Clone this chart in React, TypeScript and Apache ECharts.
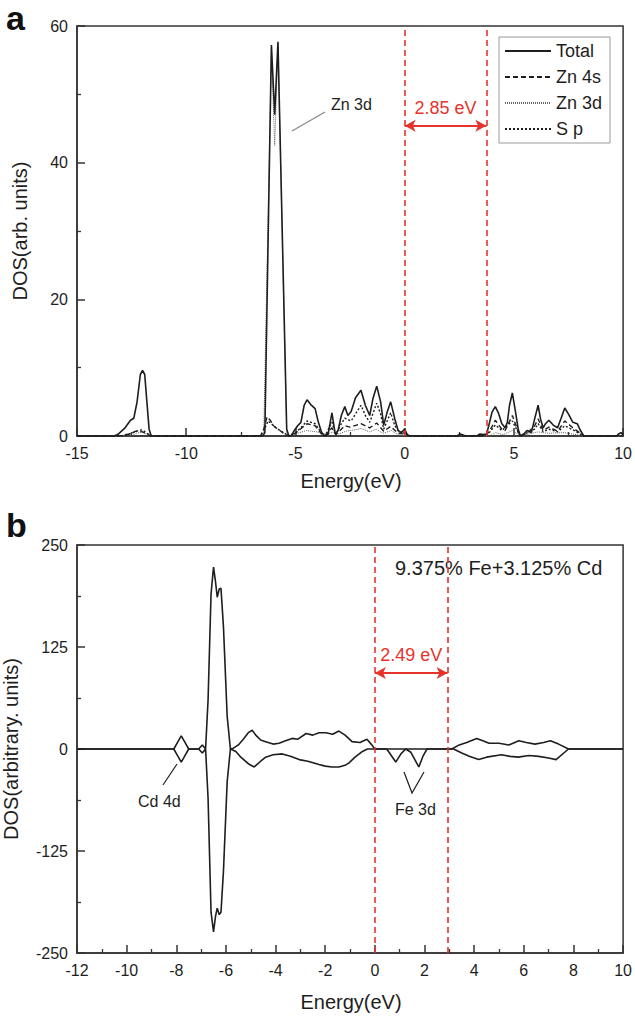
import React, { useEffect, useRef } from "react";
import * as echarts from "echarts";

const FONT = '"Liberation Sans", Arial, Helvetica, sans-serif';
const RED = "#e8332c";
const INK = "#1e1e1e";

// ---------- Panel a (pure ZnS) ----------
const xTicksA = { min: -15, max: 10, interval: 5 };
const yTicksA = { min: 0, max: 60, interval: 20 };
const gapA = { start: 0, end: 3.74, arrowY: 45.4, label: "2.85 eV" };

const totalA: number[][] = [
  [-15, 0], [-13.3, 0], [-13.1, 0.3], [-12.8, 1.2], [-12.55, 2.3], [-12.4, 2.6], [-12.25, 5],
  [-12.1, 9], [-12.0, 9.6], [-11.9, 9], [-11.8, 5], [-11.7, 1], [-11.6, 0],
  [-6.5, 0], [-6.4, 0.5], [-6.1, 57.2], [-5.95, 47], [-5.8, 57.7], [-5.4, 1], [-5.3, 0],
  [-5.2, 0], [-5.05, 0.8], [-4.9, 1.5], [-4.75, 2.0], [-4.6, 4.5], [-4.47, 5.3], [-4.3, 4.6],
  [-4.1, 4.0], [-3.95, 2.0], [-3.8, 0.5], [-3.65, 0], [-3.5, 0.3], [-3.33, 3.4], [-3.18, 0.3],
  [-3.05, 0.8], [-2.9, 3.0], [-2.74, 4.3], [-2.6, 3.0], [-2.45, 3.6], [-2.25, 5.6], [-2.0, 6.7],
  [-1.8, 4.5], [-1.6, 3.0], [-1.45, 5.5], [-1.28, 7.3], [-1.1, 5.0], [-0.96, 1.6], [-0.8, 3.5],
  [-0.64, 5.0], [-0.45, 2.5], [-0.3, 0.8], [-0.15, 0.5], [0, 1.0], [0.1, 0.3], [0.2, 0],
  [2.4, 0], [2.55, 0.3], [2.7, 0.1], [2.85, 0], [3.3, 0], [3.45, 0.3], [3.6, 0.2], [3.75, 0.3],
  [3.85, 1.5], [4.0, 3.5], [4.15, 4.3], [4.3, 3.3], [4.45, 1.8], [4.6, 1.2], [4.7, 2.0], [4.8, 4.5],
  [4.93, 6.3], [5.05, 4.0], [5.2, 1.0], [5.3, 0], [5.45, 0.3], [5.6, 0.8], [5.8, 0.5], [5.95, 2.5],
  [6.11, 4.5], [6.22, 2.5], [6.34, 1.2], [6.45, 1.8], [6.6, 2.3], [6.8, 1.6], [7.0, 1.2], [7.15, 2.5],
  [7.33, 4.1], [7.5, 3.2], [7.7, 2.0], [7.9, 1.8], [8.05, 0.8], [8.2, 0], [9.7, 0], [9.8, 0.3],
  [9.9, 0.5], [10, 0.2],
];

const zn4sA: number[][] = [
  [-15, 0], [-13.0, 0], [-12.6, 0.3], [-12.3, 0.7], [-12.0, 0.6], [-11.8, 0.3], [-11.6, 0],
  [-6.6, 0], [-6.45, 1.0], [-6.3, 2.8], [-6.15, 2.3], [-6.0, 1.5], [-5.8, 1.0], [-5.5, 0.3], [-5.3, 0],
  [-5.0, 0.4], [-4.7, 1.2], [-4.47, 1.8], [-4.1, 1.5], [-3.8, 0.3], [-3.65, 0], [-3.33, 1.2],
  [-3.15, 0.2], [-2.9, 1.0], [-2.74, 1.5], [-2.5, 1.3], [-2.0, 1.8], [-1.6, 1.2], [-1.28, 1.9],
  [-0.96, 0.7], [-0.64, 1.4], [-0.3, 0.4], [0, 0.3], [0.2, 0], [3.7, 0], [3.9, 0.8], [4.15, 2.3],
  [4.45, 1.0], [4.6, 0.8], [4.93, 3.0], [5.2, 0.6], [5.3, 0], [5.6, 0.4], [5.95, 1.5], [6.11, 2.5],
  [6.34, 0.8], [6.6, 1.3], [7.0, 0.7], [7.33, 2.2], [7.7, 1.2], [8.0, 0.5], [8.2, 0], [10, 0],
];

const zn3dA: number[][] = [
  [-15, 0], [-12.5, 0], [-12.3, 0.4], [-12.0, 0.6], [-11.8, 0.2], [-11.7, 0], [-6.6, 0],
  [-6.45, 0.5], [-6.1, 56.5], [-5.95, 42.5], [-5.8, 57], [-5.4, 0.5], [-5.3, 0], [-5.0, 0.3],
  [-4.5, 0.8], [-4.0, 0.6], [-3.5, 0.2], [-3.3, 0.6], [-3.0, 0.3], [-2.7, 0.7], [-2.3, 0.9],
  [-2.0, 1.1], [-1.6, 0.6], [-1.3, 1.0], [-1.0, 0.4], [-0.6, 0.8], [-0.3, 0.2], [0, 0], [3.9, 0],
  [4.15, 0.5], [4.5, 0.2], [4.93, 0.8], [5.3, 0], [6.1, 0.6], [6.6, 0.4], [7.3, 0.5], [8.2, 0], [10, 0],
];

const spA: number[][] = [
  [-15, 0], [-13.0, 0], [-12.5, 0.4], [-12.2, 0.8], [-12.0, 0.9], [-11.8, 0.4], [-11.6, 0],
  [-6.6, 0], [-6.45, 0.8], [-6.25, 2.2], [-6.1, 1.8], [-5.9, 1.2], [-5.6, 0.6], [-5.3, 0],
  [-5.0, 0.5], [-4.75, 1.2], [-4.47, 2.2], [-4.1, 1.8], [-3.8, 0.4], [-3.65, 0], [-3.33, 2.0],
  [-3.15, 0.2], [-2.9, 1.8], [-2.74, 2.6], [-2.45, 2.2], [-2.0, 4.5], [-1.8, 3.0], [-1.6, 2.0],
  [-1.28, 4.8], [-1.1, 3.2], [-0.96, 1.0], [-0.64, 3.4], [-0.45, 1.5], [-0.2, 0.4], [0, 0.5],
  [0.2, 0], [3.7, 0], [3.9, 0.6], [4.15, 1.6], [4.45, 0.8], [4.93, 2.2], [5.2, 0.5], [5.3, 0],
  [5.95, 1.0], [6.11, 1.8], [6.34, 0.6], [6.6, 1.0], [7.0, 0.6], [7.33, 1.5], [7.7, 0.9], [8.2, 0], [10, 0],
];

// ---------- Panel b (9.375% Fe + 3.125% Cd) ----------
const xTicksB = { min: -12, max: 10, interval: 2 };
const yTicksB = { min: -250, max: 250, interval: 125 };
const gapB = { start: 0, end: 2.93, arrowY: 93, label: "2.49 eV" };

const spinUpB: number[][] = [
  [-12, 0], [-8.1, 0], [-7.95, 8], [-7.8, 16], [-7.65, 8], [-7.5, 0], [-7.1, 0], [-6.95, 5],
  [-6.82, 0], [-6.72, 60], [-6.6, 190], [-6.5, 223], [-6.42, 205], [-6.35, 186], [-6.27, 196],
  [-6.2, 197], [-6.1, 150], [-5.95, 40], [-5.82, 0], [-5.7, 1], [-5.5, 5], [-5.3, 12], [-5.1, 20],
  [-4.94, 23], [-4.8, 17], [-4.6, 11], [-4.4, 9], [-4.1, 6], [-3.86, 7], [-3.6, 10], [-3.33, 13],
  [-3.1, 12], [-2.77, 19], [-2.5, 17], [-2.25, 20], [-1.97, 20], [-1.7, 18], [-1.45, 22],
  [-1.2, 17], [-0.92, 9], [-0.6, 8], [-0.32, 12], [-0.15, 6], [0, 0], [3.1, 0], [3.4, 5], [3.7, 8],
  [4.1, 13], [4.35, 10], [4.6, 7], [5.0, 7], [5.4, 5], [5.8, 10], [6.1, 8], [6.45, 6], [6.8, 8],
  [7.07, 10], [7.4, 6], [7.8, 0], [10, 0],
];

const spinDownB: number[][] = [
  [-12, 0], [-8.1, 0], [-7.95, -8], [-7.8, -16], [-7.65, -8], [-7.5, 0], [-7.1, 0], [-6.95, -5],
  [-6.82, 0], [-6.72, -60], [-6.6, -200], [-6.5, -224], [-6.42, -205], [-6.35, -195], [-6.27, -203],
  [-6.2, -200], [-6.1, -150], [-5.95, -40], [-5.82, 0], [-5.6, -3], [-5.4, -10], [-5.1, -18],
  [-4.86, -22], [-4.6, -15], [-4.4, -10], [-4.1, -7], [-3.73, -6], [-3.4, -9], [-3.05, -13],
  [-2.7, -15], [-2.25, -19], [-2.0, -21], [-1.73, -22], [-1.45, -22], [-1.2, -20], [-1.04, -17],
  [-0.8, -10], [-0.5, -3], [-0.3, 0], [0.48, 0], [0.84, -16], [1.05, -6], [1.24, 0], [1.45, -4],
  [1.77, -22], [1.95, -8], [2.1, 0], [3.17, 0], [3.5, -5], [3.8, -9], [4.18, -13], [4.5, -10],
  [5.1, -7], [5.45, -9], [5.78, -10], [6.2, -8], [6.6, -9], [7.0, -11], [7.3, -13], [7.8, 0], [10, 0],
];

const legendNames = ["Total", "Zn 4s", "Zn 3d", "S p"];

function gapMarkLine(g: { start: number; end: number; arrowY: number; label: string }) {
  return {
    silent: true,
    animation: false,
    symbol: ["none", "none"],
    label: { show: false },
    lineStyle: { color: RED, type: [6, 4], width: 1.6 },
    data: [
      { xAxis: g.start },
      { xAxis: g.end },
      [
        {
          coord: [g.start, g.arrowY],
          symbol: "arrow",
          symbolSize: [9, 11],
          lineStyle: { type: "solid", width: 1.8, color: RED },
          label: {
            show: true,
            position: "middle",
            formatter: g.label,
            color: RED,
            fontSize: 18,
            fontFamily: FONT,
            distance: 9,
          },
        },
        { coord: [g.end, g.arrowY], symbol: "arrow", symbolSize: [9, 11] },
      ],
    ],
  };
}

function axisCommon(fontSize = 16) {
  return {
    type: "value" as const,
    axisLine: { show: true, onZero: false, lineStyle: { color: "#333", width: 1.5 } },
    axisTick: { show: true, inside: true, length: 8, lineStyle: { color: "#333", width: 1.5 } },
    minorTick: { show: true, splitNumber: 2, length: 4, lineStyle: { color: "#333", width: 1.3 } },
    splitLine: { show: false },
    minorSplitLine: { show: false },
    axisLabel: { fontSize, color: INK, fontFamily: FONT, margin: 9 },
  };
}

export default function App() {
  const ref = useRef<HTMLDivElement>(null);
  useEffect(() => {
    if (!ref.current) return;
    const chart = echarts.init(ref.current, null, { renderer: "svg" });
    const lineBase = { type: "line", symbol: "none", showSymbol: false, animation: false, z: 3 };
    chart.setOption({
      animation: false,
      backgroundColor: "#fff",
      textStyle: { fontFamily: FONT },
      grid: [
        { left: 77, top: 26, width: 548, height: 410, show: true, borderColor: "#333", borderWidth: 1.5 },
        { left: 77, top: 545, width: 548, height: 408, show: true, borderColor: "#333", borderWidth: 1.5 },
      ],
      xAxis: [
        { ...axisCommon(), gridIndex: 0, ...xTicksA },
        { ...axisCommon(), gridIndex: 1, ...xTicksB },
      ],
      yAxis: [
        { ...axisCommon(), gridIndex: 0, ...yTicksA },
        { ...axisCommon(), gridIndex: 1, ...yTicksB },
      ],
      legend: {
        orient: "vertical",
        left: 499,
        top: 37,
        padding: [5, 8, 5, 5],
        itemWidth: 46,
        itemHeight: 14,
        itemGap: 8,
        borderColor: "#999",
        borderWidth: 1,
        data: legendNames,
        itemStyle: { opacity: 0, borderWidth: 0 },
        textStyle: { fontSize: 18, color: INK, fontFamily: FONT },
        selectedMode: false,
      },
      series: [
        {
          ...lineBase, name: "S p", xAxisIndex: 0, yAxisIndex: 0, data: spA,
          lineStyle: { color: INK, width: 1.4, type: [2, 2] }, itemStyle: { color: INK },
        },
        {
          ...lineBase, name: "Zn 3d", xAxisIndex: 0, yAxisIndex: 0, data: zn3dA,
          lineStyle: { color: "#666", width: 1, type: [1, 1] }, itemStyle: { color: "#666" },
        },
        {
          ...lineBase, name: "Zn 4s", xAxisIndex: 0, yAxisIndex: 0, data: zn4sA,
          lineStyle: { color: INK, width: 1.4, type: [5, 3] }, itemStyle: { color: INK },
        },
        {
          ...lineBase, name: "Total", xAxisIndex: 0, yAxisIndex: 0, data: totalA,
          lineStyle: { color: INK, width: 1.6, type: "solid" }, itemStyle: { color: INK },
          markLine: gapMarkLine(gapA),
        },
        {
          ...lineBase, name: "spin up", xAxisIndex: 1, yAxisIndex: 1, data: spinUpB,
          lineStyle: { color: INK, width: 1.6 }, itemStyle: { color: INK },
          markLine: gapMarkLine(gapB),
        },
        {
          ...lineBase, name: "spin down", xAxisIndex: 1, yAxisIndex: 1, data: spinDownB,
          lineStyle: { color: INK, width: 1.6 }, itemStyle: { color: INK },
        },
      ],
      graphic: [
        { type: "text", x: 6, y: 18, style: { text: "a", font: `bold 34px ${FONT}`, fill: "#111", textVerticalAlign: "middle" } },
        { type: "text", x: 6, y: 525, style: { text: "b", font: `bold 34px ${FONT}`, fill: "#111", textVerticalAlign: "middle" } },
        {
          type: "text", x: 20, y: 231, rotation: Math.PI / 2,
          style: { text: "DOS(arb. units)", font: `20px ${FONT}`, fill: INK, textAlign: "center", textVerticalAlign: "middle" },
        },
        {
          type: "text", x: 11, y: 749, rotation: Math.PI / 2,
          style: { text: "DOS(arbitrary. units)", font: `20px ${FONT}`, fill: INK, textAlign: "center", textVerticalAlign: "middle" },
        },
        {
          type: "text", x: 351, y: 481,
          style: { text: "Energy(eV)", font: `20px ${FONT}`, fill: INK, textAlign: "center", textVerticalAlign: "middle" },
        },
        {
          type: "text", x: 351, y: 1002,
          style: { text: "Energy(eV)", font: `20px ${FONT}`, fill: INK, textAlign: "center", textVerticalAlign: "middle" },
        },
        {
          type: "text", x: 331, y: 104,
          style: { text: "Zn 3d", font: `16px ${FONT}`, fill: INK, textAlign: "left", textVerticalAlign: "middle" },
        },
        { type: "line", shape: { x1: 292, y1: 131, x2: 325, y2: 112 }, style: { stroke: "#888", lineWidth: 1.2 } },
        {
          type: "text", x: 395, y: 568,
          style: { text: "9.375% Fe+3.125% Cd", font: `20px ${FONT}`, fill: INK, textAlign: "left", textVerticalAlign: "middle" },
        },
        {
          type: "text", x: 138, y: 801,
          style: { text: "Cd 4d", font: `16px ${FONT}`, fill: INK, textAlign: "left", textVerticalAlign: "middle" },
        },
        { type: "line", shape: { x1: 163, y1: 785, x2: 177, y2: 764 }, style: { stroke: INK, lineWidth: 1.2 } },
        {
          type: "text", x: 395, y: 809,
          style: { text: "Fe 3d", font: `16px ${FONT}`, fill: INK, textAlign: "left", textVerticalAlign: "middle" },
        },
        {
          type: "polyline", shape: { points: [[404, 772], [412, 793], [424, 772]] },
          style: { stroke: INK, lineWidth: 1.2, fill: "none" },
        },
      ],
    });
    return () => chart.dispose();
  }, []);
  return (
    <div
      ref={ref}
      style={{ position: "absolute", left: 0, top: 0, width: 635, height: 1016, background: "#fff" }}
    />
  );
}
